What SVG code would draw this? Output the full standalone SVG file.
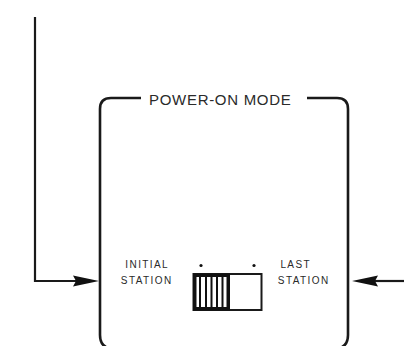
<svg xmlns="http://www.w3.org/2000/svg" width="404" height="346" viewBox="0 0 404 346">
<style>
.ln{fill:none;stroke:#1a1a1a;stroke-width:2.2}
.box{fill:none;stroke:#1a1a1a;stroke-width:2.6}
.ah{fill:#111}
.lbl{font-family:"Liberation Sans",Arial,sans-serif;font-size:10px;letter-spacing:1.4px;fill:#2a2a2a;text-anchor:middle}
.ttl{font-family:"Liberation Sans",Arial,sans-serif;font-size:15px;letter-spacing:0.7px;fill:#2a2a2a}
</style>
<rect width="404" height="346" fill="#fff"/>
<g id="panel">
<path class="box" d="M141,98 H111 Q100,98 100,109 V335 Q100,348 113,349"/>
<path class="box" d="M307,98 H337 Q348,98 348,109 V335 Q348,348 335,349"/>
<text class="ttl" x="149" y="104.5">POWER-ON MODE</text>
</g>
<g id="initial-label">
<text class="lbl" x="147.2" y="268">INITIAL</text>
<text class="lbl" x="146.7" y="284">STATION</text>
</g>
<g id="last-label">
<text class="lbl" x="295.7" y="268">LAST</text>
<text class="lbl" x="303.7" y="284">STATION</text>
</g>
<g id="switch">
<circle cx="201" cy="265.5" r="1.6" fill="#111"/>
<circle cx="254" cy="265.5" r="1.6" fill="#111"/>
<rect x="193.5" y="274" width="68" height="36" fill="#fff" stroke="#1a1a1a" stroke-width="2"/>
<rect x="193" y="273.5" width="37" height="37" fill="#111"/>
<rect x="196.5" y="277" width="30" height="30" fill="#fff"/>
<g fill="#111">
<rect x="199" y="277" width="2" height="30"/>
<rect x="205" y="277" width="2" height="30"/>
<rect x="210.5" y="277" width="2" height="30"/>
<rect x="216" y="277" width="2" height="30"/>
<rect x="221.5" y="277" width="2" height="30"/>
</g>
</g>
<g id="connectors">
<path class="ln" d="M35,17 V281 H80"/>
<path class="ah" d="M73,275.5 L99,281 L73,286.5 L76,281 Z"/>
<path class="ln" d="M404,281 H372"/>
<path class="ah" d="M378,275.5 L352,281 L378,286.5 L375,281 Z"/>
</g>
</svg>
